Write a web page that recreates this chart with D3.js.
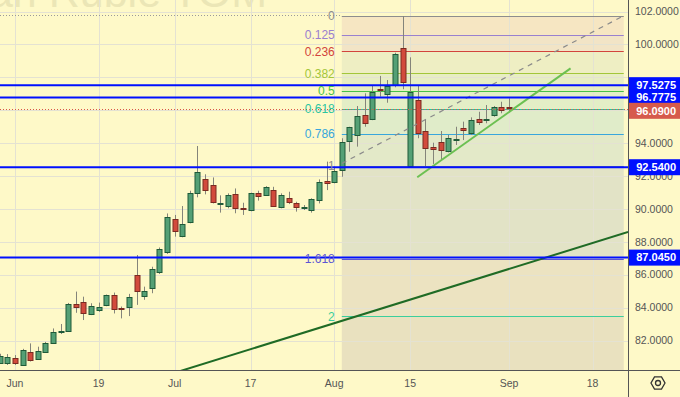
<!DOCTYPE html>
<html>
<head>
<meta charset="utf-8">
<script src="https://cdn.jsdelivr.net/npm/d3@7"></script>
<style>
  body { margin: 0; background: #fef9c8; }
  svg { display: block; font-family: 'Liberation Sans', Arial, sans-serif; }
</style>
</head>
<body>
<svg id="chart" width="680" height="397"></svg>
<script>
// daily candles, USD/RUB TOM
const dates = [
  '2023-05-30', '2023-05-31',
  '2023-06-01', '2023-06-02', '2023-06-05', '2023-06-06', '2023-06-07', '2023-06-08', '2023-06-09',
  '2023-06-13', '2023-06-14', '2023-06-15', '2023-06-16', '2023-06-19', '2023-06-20', '2023-06-21',
  '2023-06-22', '2023-06-23', '2023-06-26', '2023-06-27', '2023-06-28', '2023-06-29', '2023-06-30',
  '2023-07-03', '2023-07-04', '2023-07-05', '2023-07-06', '2023-07-07', '2023-07-10', '2023-07-11',
  '2023-07-12', '2023-07-13', '2023-07-14', '2023-07-17', '2023-07-18', '2023-07-19', '2023-07-20',
  '2023-07-21', '2023-07-24', '2023-07-25', '2023-07-26', '2023-07-27', '2023-07-28', '2023-07-31',
  '2023-08-01', '2023-08-02', '2023-08-03', '2023-08-04', '2023-08-07', '2023-08-08', '2023-08-09',
  '2023-08-10', '2023-08-11', '2023-08-14', '2023-08-15', '2023-08-16', '2023-08-17', '2023-08-18',
  '2023-08-21', '2023-08-22', '2023-08-23', '2023-08-24', '2023-08-25', '2023-08-28', '2023-08-29',
  '2023-08-30', '2023-08-31', '2023-09-01'
]
const opens = [
  80.66, 80.62, 80.92, 80.52, 81.33, 80.86, 81.33, 81.88, 82.52, 82.60, 84.23, 84.33, 83.65, 83.90,
  84.13, 84.76, 83.99, 84.03, 85.97, 84.74, 85.18, 86.13, 87.34, 89.37, 88.36, 89.17, 90.95, 91.84,
  91.44, 90.30, 90.18, 90.91, 90.05, 89.90, 90.99, 90.89, 91.15, 90.14, 90.69, 90.34, 90.09, 89.94,
  90.55, 91.70, 91.66, 92.38, 94.09, 94.50, 95.71, 95.45, 97.28, 96.97, 97.54, 99.77, 92.61, 96.63,
  94.76, 93.79, 94.09, 93.48, 94.22, 94.91, 94.64, 95.45, 95.43, 95.71, 96.22, 96.18
]
const highs = [
  81.20, 81.18, 81.12, 81.50, 81.83, 81.63, 81.92, 82.74, 83.01, 84.29, 84.98, 84.67, 84.27, 84.31,
  84.80, 84.92, 84.07, 84.84, 87.20, 85.28, 86.49, 87.66, 89.73, 89.64, 90.18, 91.11, 93.83, 92.11,
  91.92, 90.83, 90.95, 91.25, 90.38, 90.99, 91.11, 91.39, 91.35, 90.95, 91.05, 90.44, 90.24, 90.65,
  91.80, 92.88, 92.58, 94.30, 95.00, 96.26, 97.03, 97.48, 98.09, 97.84, 99.50, 101.73, 99.22, 97.48,
  95.45, 94.03, 94.74, 94.50, 95.00, 95.31, 95.57, 95.91, 96.32, 96.26, 96.52, 96.73
]
const lows = [
  80.60, 80.52, 80.52, 80.46, 80.73, 80.83, 81.29, 81.84, 82.40, 82.54, 83.69, 83.25, 83.55, 83.75,
  84.09, 83.65, 83.35, 83.49, 84.17, 84.48, 84.88, 86.05, 87.27, 88.32, 88.28, 89.13, 90.71, 90.89,
  90.34, 89.78, 90.04, 89.74, 89.64, 89.86, 90.51, 90.79, 90.14, 90.04, 90.30, 89.84, 89.94, 89.78,
  90.34, 91.15, 91.56, 91.96, 93.48, 93.79, 95.00, 95.40, 96.83, 96.46, 97.40, 97.28, 92.58, 94.30,
  92.61, 92.74, 93.02, 93.44, 93.89, 94.19, 94.50, 95.11, 95.21, 95.61, 95.82, 95.95
]
const closes = [
  81.06, 80.98, 80.62, 81.42, 80.86, 81.37, 81.88, 82.52, 82.58, 84.23, 84.07, 83.65, 84.11, 84.07,
  84.76, 83.90, 83.96, 84.64, 85.02, 85.04, 86.33, 87.54, 89.49, 88.63, 89.09, 90.95, 92.25, 91.15,
  90.38, 90.34, 90.85, 90.08, 90.03, 90.95, 90.83, 91.35, 90.18, 90.85, 90.44, 90.10, 90.11, 90.59,
  91.66, 91.56, 92.31, 94.09, 94.97, 95.65, 95.21, 97.11, 97.19, 97.48, 99.42, 97.68, 97.13, 94.64,
  93.75, 93.69, 93.63, 94.30, 94.26, 94.76, 95.41, 95.25, 95.47, 96.22, 96.02, 96.09
]

const tickDates = ['2023-06-01', '2023-06-19', '2023-07-03', '2023-07-17', '2023-08-01', '2023-08-15', '2023-09-01', '2023-09-18']
const tickLabels = ['Jun', '19', 'Jul', '17', 'Aug', '15', 'Sep', '18']
const priceTicks = [82, 84, 86, 88, 90, 92, 94, 96, 98, 100, 102]

// fibonacci retracement drawn from the Aug 14 high to the Aug 15 low
const fibHigh = 101.73
const fibLow = 92.6
const fibLevels = [0, 0.125, 0.236, 0.382, 0.5, 0.618, 0.786, 1, 1.618, 2, 2.618]
const fibColors = ['#8d8d8d', '#9a80cf', '#d2443c', '#a3c63a', '#47c147', '#2cc4a0', '#38a6dc', '#8d8d8d', '#5b55d4', '#3ccf9c', '#8d8d8d']
const fibFills = ['#f6e6c2', '#f2e4c6', '#eeeec3', '#e7eec2', '#e3eec6', '#e0ecc9', '#e3e9c8', '#e2e3c6', '#ece3c1', '#e9e1bf']
const fibStart = '2023-08-02'
const fibEndIndex = 82.1

const blueLevels = [97.5275, 96.7775, 92.54, 87.045]
// trend lines: [index, price] pairs
const dashedLine = [[45, 92.77], [82.26, 101.79]]
const greenLine = [[54.93, 91.93], [75.1, 98.55]]
const darkLine = [[23.05, 80.05], [82.66, 88.60]]

const W = 680, H = 397
const plotW = 628, plotH = 370

// trading calendar continues into the future on weekdays
const parse = d3.timeParse('%Y-%m-%d')
const fmt = d3.timeFormat('%Y-%m-%d')
const calendar = dates.slice()
let day = parse(dates[dates.length - 1])
while (calendar.length < 86) {
  day = d3.timeDay.offset(day, 1)
  if (day.getDay() % 6 !== 0) calendar.push(fmt(day))
}
const idx = s => calendar.indexOf(s)

const x = d3.scaleLinear().domain([0, 82]).range([-0.2, 623])
const y = d3.scaleLinear().domain([80.213, 102.705]).range([plotH, 0])

const svg = d3.select('#chart')
svg.append('rect').attr('width', W).attr('height', H).attr('fill', '#fef9c8')

svg.append('defs').append('clipPath').attr('id', 'plot')
  .append('rect').attr('width', plotW).attr('height', plotH)

const g = svg.append('g').attr('clip-path', 'url(#plot)')

// watermark
g.append('text')
  .attr('x', 267).attr('y', 7)
  .attr('text-anchor', 'end')
  .attr('font-size', 43)
  .attr('fill', '#ebe6b6')
  .text('U.S. Dollar / Russian Ruble TOM')

// fib zones
const fibPrice = l => fibHigh - l * (fibHigh - fibLow)
const fx0 = x(idx(fibStart)), fx1 = x(fibEndIndex)
fibFills.forEach((c, i) => {
  const yTop = y(fibPrice(fibLevels[i])), yBot = y(fibPrice(fibLevels[i + 1]))
  g.append('rect')
    .attr('x', fx0).attr('y', yTop)
    .attr('width', fx1 - fx0).attr('height', yBot - yTop)
    .attr('fill', c)
})

// grid
g.selectAll('line.vgrid').data(tickDates).enter().append('line')
  .attr('class', 'vgrid')
  .attr('x1', d => Math.round(x(idx(d))) + 0.5).attr('x2', d => Math.round(x(idx(d))) + 0.5)
  .attr('y1', 0).attr('y2', plotH)
  .attr('stroke', '#e4e2d2').attr('stroke-width', 1)
g.selectAll('line.hgrid').data(priceTicks).enter().append('line')
  .attr('class', 'hgrid')
  .attr('x1', 0).attr('x2', plotW)
  .attr('y1', d => Math.round(y(d)) + 0.5).attr('y2', d => Math.round(y(d)) + 0.5)
  .attr('stroke', '#e4e2d2').attr('stroke-width', 1)

// dotted line at the high, left of the fib
g.append('line')
  .attr('x1', 0).attr('x2', fx0)
  .attr('y1', Math.round(y(fibHigh)) - 0.5).attr('y2', Math.round(y(fibHigh)) - 0.5)
  .attr('stroke', '#9a9a9a').attr('stroke-dasharray', '1,2')

// fib level lines
fibLevels.slice(0, 10).forEach((l, i) => {
  const yy = Math.round(y(fibPrice(l))) + 0.5
  g.append('line')
    .attr('x1', fx0).attr('x2', fx1)
    .attr('y1', yy).attr('y2', yy)
    .attr('stroke', fibColors[i]).attr('stroke-width', 1)
})

// candles
const candles = dates.map((d, i) => ({ i, o: opens[i], h: highs[i], l: lows[i], c: closes[i] }))
const cg = g.append('g')
cg.selectAll('line.wick').data(candles).enter().append('line')
  .attr('x1', d => Math.round(x(d.i)) + 0.5).attr('x2', d => Math.round(x(d.i)) + 0.5)
  .attr('y1', d => y(d.h)).attr('y2', d => y(d.l))
  .attr('stroke', '#84847a').attr('stroke-width', 1)
cg.selectAll('rect.body').data(candles).enter().append('rect')
  .attr('x', d => Math.round(x(d.i)) - 2)
  .attr('y', d => Math.round(y(Math.max(d.o, d.c))) + 0.5)
  .attr('width', 5)
  .attr('height', d => Math.max(1, Math.round(y(Math.min(d.o, d.c)) - y(Math.max(d.o, d.c)))))
  .attr('fill', d => d.c >= d.o ? '#54a075' : '#d24a3c')
  .attr('stroke', d => d.c >= d.o ? '#1f5a38' : '#7a2a20')
  .attr('stroke-width', 1)

// trend lines
const line = d3.line().x(d => x(d[0])).y(d => y(d[1]))
g.append('path').datum(dashedLine).attr('d', line)
  .attr('fill', 'none').attr('stroke', '#8a8a8a').attr('stroke-width', 1.2).attr('stroke-dasharray', '5,5')
g.append('path').datum(darkLine).attr('d', line)
  .attr('fill', 'none').attr('stroke', '#1f6b25').attr('stroke-width', 2)
g.append('path').datum(greenLine).attr('d', line)
  .attr('fill', 'none').attr('stroke', '#6cc052').attr('stroke-width', 2)

// horizontal levels
g.selectAll('line.blue').data(blueLevels).enter().append('line')
  .attr('x1', 0).attr('x2', plotW)
  .attr('y1', d => y(d)).attr('y2', d => y(d))
  .attr('stroke', '#0010ff').attr('stroke-width', 2)

// last price line
const last = closes[closes.length - 1]
g.append('line')
  .attr('x1', 0).attr('x2', plotW)
  .attr('y1', Math.round(y(last)) + 0.5).attr('y2', Math.round(y(last)) + 0.5)
  .attr('stroke', '#d9574a').attr('stroke-dasharray', '1,2')

// fib labels
fibLevels.slice(0, 10).forEach((l, i) => {
  g.append('text')
    .attr('x', fx0 - 7).attr('y', y(fibPrice(l)))
    .attr('dy', '0.35em')
    .attr('text-anchor', 'end')
    .attr('font-size', 12)
    .attr('fill', fibColors[i])
    .text(String(l))
})

// axes
svg.append('line').attr('x1', 0).attr('x2', W).attr('y1', plotH + 0.5).attr('y2', plotH + 0.5)
  .attr('stroke', '#555').attr('stroke-width', 1)
svg.append('line').attr('x1', plotW + 0.5).attr('x2', plotW + 0.5).attr('y1', 0).attr('y2', H)
  .attr('stroke', '#555').attr('stroke-width', 1)

svg.selectAll('text.xt').data(tickDates).enter().append('text')
  .attr('class', 'xt')
  .attr('x', d => x(idx(d))).attr('y', 387)
  .attr('text-anchor', 'middle')
  .attr('font-size', 10.5).attr('fill', '#555')
  .text((d, i) => tickLabels[i])

// price labels on the axis
const last2 = last
const labels = blueLevels.map(p => ({ p, c: '#0010ff' })).concat([{ p: last2, c: '#d65a4c', dy: 2 }])
const labelY = d => y(d.p) + (d.dy || 0)

// tick labels hidden where a price label sits over them
const visibleTicks = priceTicks.filter(t => labels.every(d => Math.abs(labelY(d) - y(t)) > 8))
svg.selectAll('text.yt').data(visibleTicks).enter().append('text')
  .attr('class', 'yt')
  .attr('x', 635).attr('y', d => y(d)).attr('dy', '0.35em')
  .attr('font-size', 10.5).attr('fill', '#555')
  .text(d => d3.format('.4f')(d))

labels.forEach(d => {
  const yy = labelY(d)
  svg.append('rect').attr('x', plotW + 1).attr('y', yy - 8).attr('width', W - plotW - 1).attr('height', 16)
    .attr('fill', d.c)
  svg.append('text').attr('x', 676).attr('y', yy).attr('dy', '0.35em')
    .attr('text-anchor', 'end')
    .attr('font-size', 11).attr('font-weight', 'bold').attr('fill', '#fff')
    .text(d3.format('.4f')(d.p))
})

// settings icon
const hex = d3.range(6).map(k => [658 + 7 * Math.cos(k * Math.PI / 3), 383 + 7 * Math.sin(k * Math.PI / 3)])
svg.append('polygon').attr('points', hex.map(p => p.join(',')).join(' '))
  .attr('fill', 'none').attr('stroke', '#333').attr('stroke-width', 1.3)
svg.append('circle').attr('cx', 658).attr('cy', 383).attr('r', 2.5)
  .attr('fill', 'none').attr('stroke', '#333').attr('stroke-width', 1.3)
</script>
</body>
</html>
